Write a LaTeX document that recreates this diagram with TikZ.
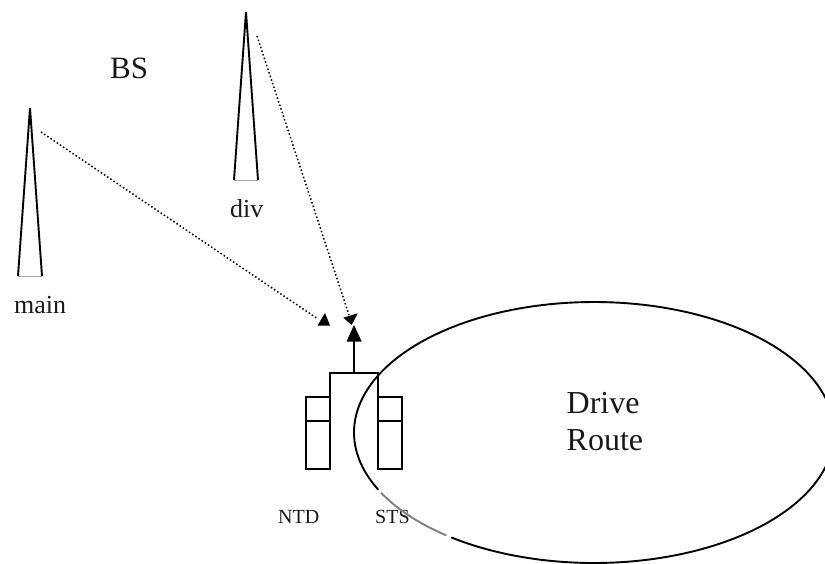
\documentclass[tikz,border=0pt]{standalone}
\usepackage{fontspec}
\setmainfont{Liberation Serif}
\tikzset{
  lbl/.style={inner sep=0pt,anchor=base west,text=black!90},
  leg/.style={draw=black,line width=1.9pt},
  thick line/.style={draw=black,line width=2pt},
  ray/.style={draw=black,line width=1.5pt,dash pattern=on 1.5pt off 2.3pt},
  tip/.style={fill=black,draw=none},
  route/.style={line width=1.9pt}
}
\begin{document}
\begin{tikzpicture}[x=1pt,y=-1pt]
\useasboundingbox (0,0) rectangle (825,563);
\clip (0,0) rectangle (825,563);
% antennas
\coordinate (mainTop) at (30,108);
\coordinate (mainL) at (18,276);
\coordinate (mainR) at (42,276);
\coordinate (divTop) at (246,12);
\coordinate (divL) at (234,180);
\coordinate (divR) at (258,180);
\draw[draw=black!35,line width=.9pt] (mainL) -- (mainR);
\draw[draw=black!35,line width=.9pt] (divL) -- (divR);
\draw[leg,miter limit=1] (mainL) -- (mainTop) -- (mainR);
\draw[leg,miter limit=1] (divL) -- (divTop) -- (divR);
% labels
\node[lbl,font=\fontsize{31}{31}\selectfont] (bs) at (110,78) {BS};
\node[lbl,font=\fontsize{26}{26}\selectfont] (divlabel) at (230,217) {div};
\node[lbl,font=\fontsize{26}{26}\selectfont] (mainlabel) at (14,313) {main};
\node[lbl,font=\fontsize{20}{20}\selectfont] (ntd) at (278,523) {NTD};
\node[lbl,font=\fontsize{20}{20}\selectfont] (sts) at (375,523) {STS};
\node[lbl,font=\fontsize{32}{32}\selectfont] (drive) at (566.5,413) {Drive};
\node[lbl,font=\fontsize{32}{32}\selectfont] (routelabel) at (566.5,450) {Route};
% rays
\coordinate (rayA) at (41,132);
\coordinate (rayAend) at (318,319);
\coordinate (rayB) at (257,36);
\coordinate (rayBend) at (349,315);
\draw[ray] (rayA) -- (rayAend);
\draw[ray] (rayB) -- (rayBend);
\fill[tip] (317.5,325.5) -- (330,325.5) -- (325,313) -- cycle;
\fill[tip] (343.3,317.7) -- (357.7,313.3) -- (351.7,325) -- cycle;
% receiver
\coordinate (lA) at (306,397);
\coordinate (lB) at (330,469);
\coordinate (rA) at (378,397);
\coordinate (rB) at (402,469);
\coordinate (stemB) at (354,373);
\coordinate (stemT) at (354,340);
\draw[thick line] (lA) rectangle (lB);
\draw[thick line] (rA) rectangle (rB);
\draw[thick line] (306,421) -- (330,421);
\draw[thick line] (378,421) -- (402,421);
\draw[thick line] (lA -| lB) -- (330,373) -- (378,373) -- (rA);
\draw[thick line] (stemB) -- (stemT);
\fill[tip] (354,325) -- (346.5,341.5) -- (361.7,341.5) -- cycle;
% route
\draw[route,black] plot[domain=154:360+126.5,samples=300] ({594+240*cos(\x)},{432.5+130.5*sin(\x)});
\draw[route,black!50] plot[domain=128:152.5,samples=40] ({594+240*cos(\x)},{432.5+130.5*sin(\x)});
\end{tikzpicture}
\end{document}
